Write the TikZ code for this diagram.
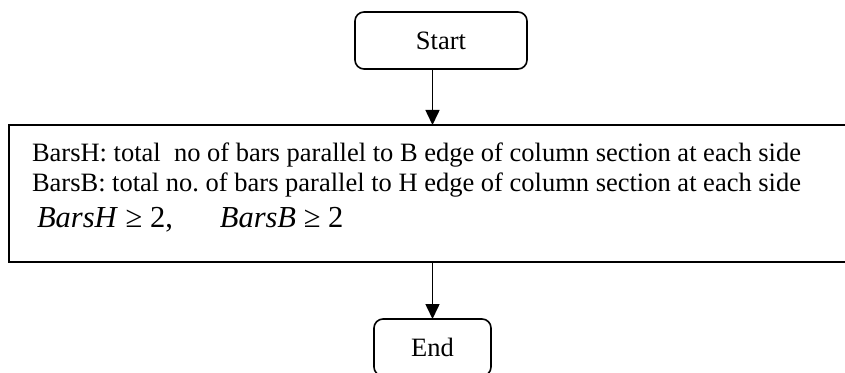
\documentclass[tikz,border=0pt]{standalone}
\usepackage{fontspec}
\setmainfont{Liberation Serif}
\usetikzlibrary{arrows.meta}
\frenchspacing
\begin{document}
\begin{tikzpicture}[x=1pt,y=1pt,
  roundbox/.style={draw, line width=1.6pt, rounded corners=9pt, minimum width=#1,
    minimum height=57pt, inner sep=0pt, outer sep=0pt, font=\fontsize{26.5}{30}\selectfont},
  framebox/.style={draw, line width=2pt, minimum width=851pt, minimum height=137pt,
    inner sep=0pt, outer sep=0pt},
  txt/.style={inner sep=0pt, outer sep=0pt, anchor=base west, font=\fontsize{26.5}{30}\selectfont},
  mathtxt/.style={inner sep=0pt, outer sep=0pt, anchor=base west, font=\fontsize{30.5}{34}\selectfont},
  arr/.style={line width=1.6pt, -{Triangle[length=15pt,width=14pt]}}]
\useasboundingbox (0,0) rectangle (845,372);
\node[roundbox=172pt, anchor=north west] (start) at (355,360) {Start};
\node[framebox, anchor=north west] (main) at (9,247) {};
\node[txt] (l1) at (32,210) {BarsH: total\ \ no of bars parallel to B edge of column section at each side};
\node[txt] (l2) at (32,180) {BarsB: total no. of bars parallel to H edge of column section at each side};
\node[mathtxt] (l3) at (37,144) {\textit{BarsH} ≥ 2,\hspace{47pt}\textit{BarsB} ≥ 2};
\node[roundbox=117pt, anchor=north west] (endb) at (374,53) {End};
\draw[arr] (endb.north |- start.south) -- (endb.north |- main.north);
\draw[arr] (endb.north |- main.south) -- (endb.north);
\end{tikzpicture}
\end{document}
